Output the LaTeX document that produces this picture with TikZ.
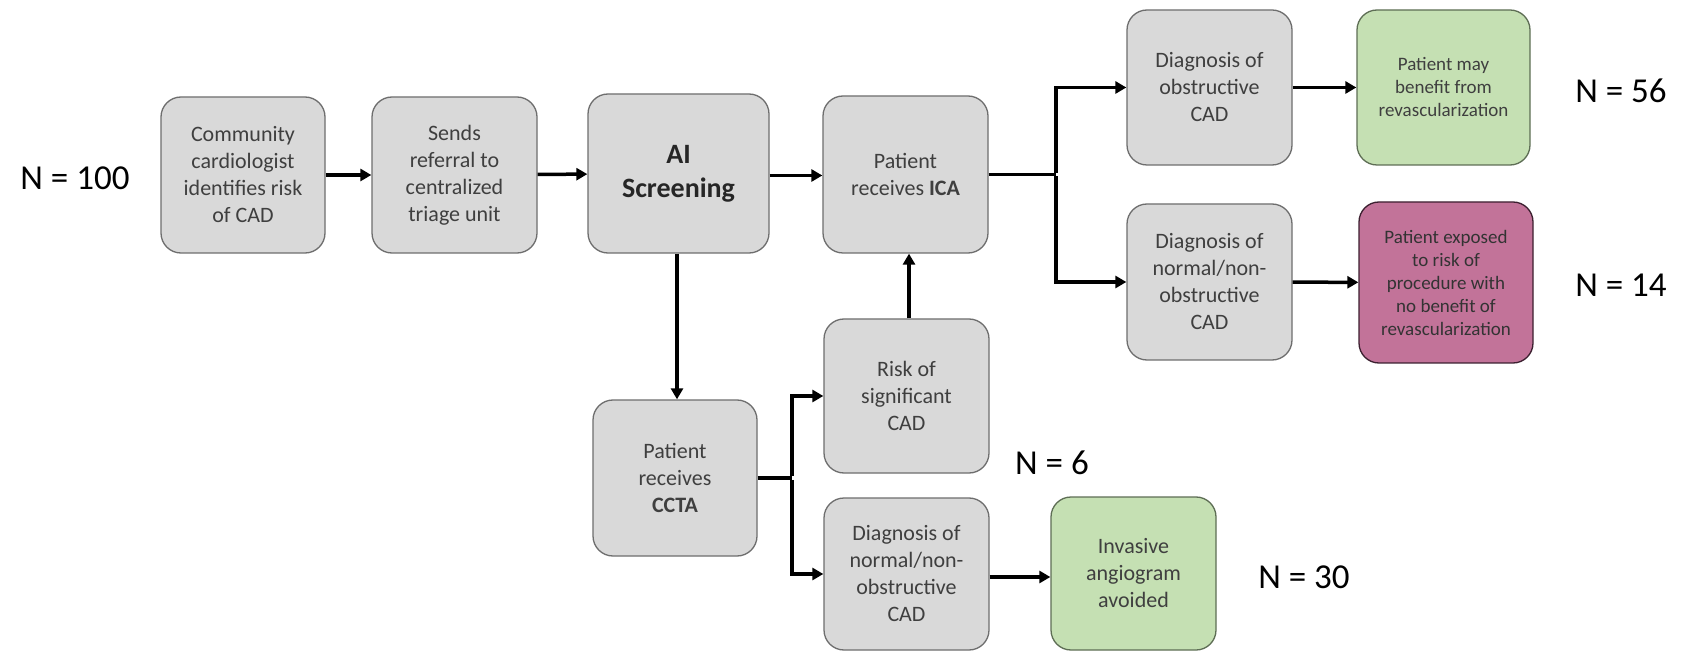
\documentclass[tikz,border=0pt]{standalone}
\usepackage{fontspec}
\setmainfont{Carlito}
\usetikzlibrary{arrows.meta}
\definecolor{boxgray}{HTML}{D9D9D9}
\definecolor{boxline}{HTML}{6E6E6E}
\definecolor{boxtext}{HTML}{3F3F3F}
\definecolor{okgreen}{HTML}{C5E0B3}
\definecolor{okline}{HTML}{5E6E55}
\definecolor{badpink}{HTML}{C27399}
\definecolor{badline}{HTML}{3C2030}
\tikzset{
  box/.style={draw=boxline, line width=1.3pt, fill=boxgray, rounded corners=20pt,
    inner sep=0pt, align=center, text=boxtext,
    font=\fontsize{22}{27}\selectfont},
  greenbox/.style={box, fill=okgreen, draw=okline},
  pinkbox/.style={box, fill=badpink, draw=badline, text=black!80},
  smalltext/.style={font=\fontsize{19}{23}\selectfont},
  count/.style={font=\fontsize{35}{40}\selectfont, text=black, inner sep=0pt},
  flow/.style={line width=3.5pt, -{Triangle[length=11pt,width=12pt]}},
  plain/.style={line width=3.5pt}
}
\begin{document}
\begin{tikzpicture}[x=1pt,y=-1pt]
\useasboundingbox (0,0) rectangle (1682,652);
\fill[white] (0,0) rectangle (1682,652);

\node[count] (n100) at (75,178) {N = 100};
\node[box, minimum width=164pt, minimum height=156pt] (comm) at (243,175)
  {Community\\cardiologist\\identifies risk\\of CAD};
\node[box, minimum width=165pt, minimum height=156pt] (send) at (454.5,175)
  {Sends\\referral to\\centralized\\triage unit};
\node[box, minimum width=181pt, minimum height=159pt, font=\fontsize{28}{34}\selectfont\bfseries, text=black!85] (ai) at (678.5,173.5)
  {AI\\Screening};
\node[box, minimum width=165pt, minimum height=157pt] (ica) at (905.5,174.5)
  {Patient\\receives \textbf{ICA}};
\node[box, minimum width=165pt, minimum height=155pt] (dobs) at (1209.5,87.5)
  {Diagnosis of\\obstructive\\CAD};
\node[greenbox, smalltext, minimum width=173pt, minimum height=155pt] (gben) at (1443.5,87.5)
  {Patient may\\benefit from\\revascularization};
\node[box, minimum width=165pt, minimum height=156pt] (dnorm) at (1209.5,282)
  {Diagnosis of\\normal/non-\\obstructive\\CAD};
\node[pinkbox, smalltext, minimum width=174pt, minimum height=161pt] (risk) at (1446,282.5)
  {Patient exposed\\to risk of\\procedure with\\no benefit of\\revascularization};
\node[count] (n56) at (1621,91) {N = 56};
\node[count] (n14) at (1621,285) {N = 14};

\node[box, minimum width=164pt, minimum height=156pt] (ccta) at (675,478)
  {Patient\\receives\\\textbf{CCTA}};
\node[box, minimum width=165pt, minimum height=154pt] (sig) at (906.5,396)
  {Risk of\\significant\\CAD};
\node[box, minimum width=165pt, minimum height=152pt] (dn2) at (906.5,574)
  {Diagnosis of\\normal/non-\\obstructive\\CAD};
\node[greenbox, minimum width=165pt, minimum height=153pt] (avoid) at (1133.5,573.5)
  {Invasive\\angiogram\\avoided};
\node[count] (n6) at (1052,463) {N = 6};
\node[count] (n30) at (1304,577) {N = 30};

\coordinate (jtop) at (1056,174.5);
\coordinate (jbot) at (792,478);

\draw[flow] (comm) -- (send);
\draw[flow] (send) -- (ai);
\draw[flow] ([yshift=-2pt]ai.east) -- ([yshift=-2pt]ai.east -| ica.west);
\draw[plain] (ica.east) -- (jtop);
\draw[flow] ([yshift=1.75pt]jtop) |- (dobs.west);
\draw[flow] ([yshift=-1.75pt]jtop) |- (dnorm.west);
\draw[flow] (dobs) -- (gben);
\draw[flow] (dnorm) -- (risk);
\draw[flow] (ai.south -| 677,0) -- (ccta.north -| 677,0);
\draw[plain] (ccta.east) -- (jbot);
\draw[flow] ([yshift=1.75pt]jbot) |- (sig.west);
\draw[flow] ([yshift=-1.75pt]jbot) |- (dn2.west);
\draw[flow] (sig.north -| 909,0) -- (ica.south -| 909,0);
\draw[flow] (dn2.east |- 0,577) -- (avoid.west |- 0,577);
\end{tikzpicture}
\end{document}
